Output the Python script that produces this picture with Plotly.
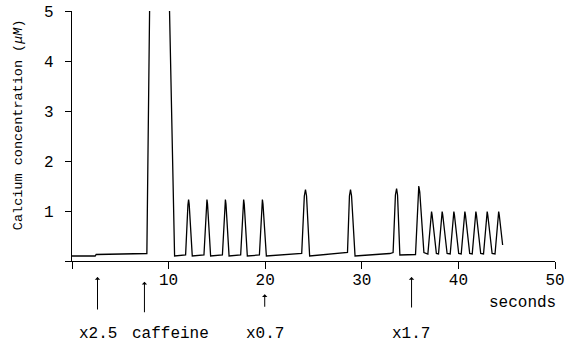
import plotly.graph_objects as go

# time (s) and calcium concentration (uM)
time_s = [0.0, 2.4, 2.5, 7.75, 8.09, 9.99, 10.62,
          11.76, 12.0, 12.07, 12.13, 12.45,
          13.66, 13.9, 13.97, 14.03, 14.35,
          15.57, 15.81, 15.88, 15.94, 16.26,
          17.46, 17.7, 17.77, 17.83, 18.15,
          19.4, 19.64, 19.71, 19.77, 20.12,
          23.78, 24.05, 24.17, 24.28, 24.6,
          28.52, 28.72, 28.83, 28.94, 29.3,
          32.9, 33.24, 33.48, 33.6, 33.7, 33.94,
          35.56, 35.8, 35.9, 36.0, 36.43,
          36.84, 37.16, 37.22, 37.28, 37.72,
          37.94, 38.26, 38.32, 38.38, 38.83,
          39.15, 39.47, 39.53, 39.59, 40.03,
          40.29, 40.61, 40.67, 40.73, 41.17,
          41.43, 41.75, 41.81, 41.87, 42.31,
          42.6, 42.92, 42.98, 43.04, 43.49,
          43.79, 44.11, 44.17, 44.23, 44.58]
calcium_uM = [0.10, 0.10, 0.13, 0.15, 6.0, 6.0, 0.10,
              0.12, 1.12, 1.23, 1.14, 0.10,
              0.12, 1.12, 1.23, 1.14, 0.10,
              0.12, 1.12, 1.23, 1.14, 0.10,
              0.12, 1.12, 1.23, 1.14, 0.10,
              0.12, 1.12, 1.23, 1.14, 0.10,
              0.15, 1.30, 1.43, 1.30, 0.10,
              0.17, 1.30, 1.43, 1.30, 0.10,
              0.15, 0.17, 1.32, 1.45, 1.32, 0.12,
              0.13, 1.38, 1.50, 1.38, 0.17,
              0.14, 0.92, 0.99, 0.92, 0.15,
              0.14, 0.92, 0.99, 0.92, 0.15,
              0.14, 0.92, 0.99, 0.92, 0.15,
              0.14, 0.92, 0.99, 0.92, 0.15,
              0.14, 0.92, 0.99, 0.92, 0.15,
              0.14, 0.92, 0.99, 0.92, 0.15,
              0.14, 0.92, 0.99, 0.92, 0.32]

x_ticks = [0, 10, 20, 30, 40, 50]
x_tick_labels = ["", "10", "20", "30", "40", "50"]
y_ticks = [0, 1, 2, 3, 4, 5]
y_tick_labels = ["", "1", "2", "3", "4", "5"]

# stimulus markers: (time of arrow, label, label centre time)
marker_times = [2.64, 7.5, 19.95, 35.15]
marker_labels = ["x2.5", "caffeine", "x0.7", "x1.7"]
label_times = [2.64, 10.2, 19.95, 35.1]

FONT = "Liberation Mono"

fig = go.Figure()
fig.add_trace(go.Scatter(x=time_s, y=calcium_uM, mode="lines",
                         line=dict(color="black", width=1.3),
                         showlegend=False, hoverinfo="skip"))

fig.update_layout(
    width=569, height=344,
    margin=dict(l=72, r=14, t=11, b=83, autoexpand=False),
    paper_bgcolor="white", plot_bgcolor="white",
    font=dict(family=FONT, size=16, color="black"),
    xaxis=dict(range=[0, 50], tickvals=x_ticks, ticktext=x_tick_labels,
               showline=True, linecolor="black", linewidth=1.4,
               ticks="outside", ticklen=7, tickcolor="black", tickwidth=1,
               showgrid=False, zeroline=False, ticklabelstandoff=-3,
               automargin=False,
               tickfont=dict(family=FONT, size=16)),
    yaxis=dict(range=[0, 5], tickvals=y_ticks, ticktext=y_tick_labels,
               showline=True, linecolor="black", linewidth=1.2,
               ticks="outside", ticklen=6, tickcolor="black", tickwidth=1,
               showgrid=False, zeroline=False, ticklabelstandoff=8,
               automargin=False,
               tickfont=dict(family=FONT, size=16)),
)

# y-axis title
fig.add_annotation(text="Calcium concentration (<i>μM</i>)", textangle=-90,
                   xref="paper", yref="paper", x=-0.111, y=0.545,
                   showarrow=False, font=dict(family=FONT, size=13.5),
                   xanchor="center", yanchor="middle")
# x-axis title
fig.add_annotation(text="seconds", xref="x", yref="paper", x=46.6, y=-0.168,
                   showarrow=False, font=dict(family=FONT, size=16),
                   xanchor="center", yanchor="middle")

arrow_tip_y = [-0.064, -0.083, -0.133, -0.064]
arrow_len = [34, 32, 14, 32]
for t, tip, ln in zip(marker_times, arrow_tip_y, arrow_len):
    fig.add_annotation(text="", x=t, y=tip, xref="x", yref="paper",
                       ax=0, ay=ln, axref="pixel", ayref="pixel",
                       showarrow=True, arrowhead=1, arrowsize=0.9,
                       arrowwidth=1, arrowcolor="black")
for lbl, t in zip(marker_labels, label_times):
    fig.add_annotation(text=lbl, x=t, y=-0.29, xref="x", yref="paper",
                       showarrow=False, font=dict(family=FONT, size=16),
                       xanchor="center", yanchor="middle")

fig.write_html("out.html")
